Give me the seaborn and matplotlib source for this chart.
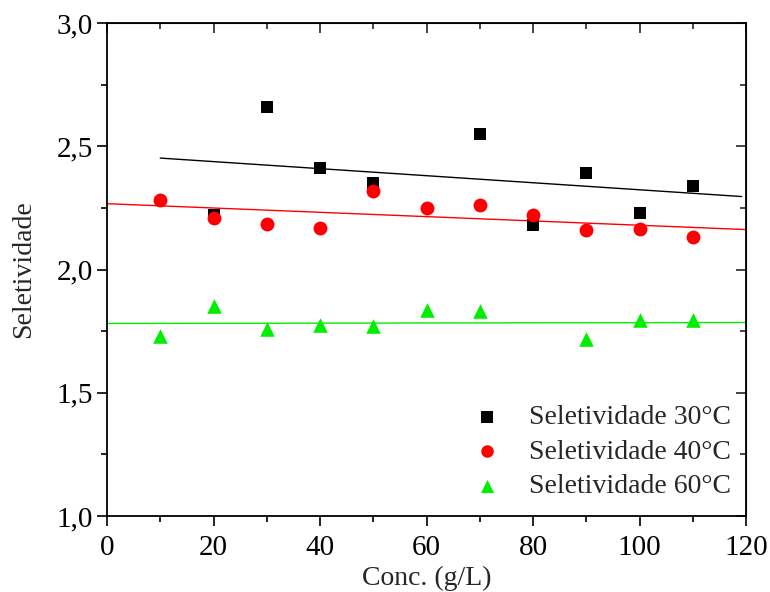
import matplotlib
matplotlib.use("Agg")
import matplotlib.pyplot as plt
import seaborn as sns
import pandas as pd
import numpy as np
from matplotlib.ticker import MultipleLocator, FuncFormatter

# Data
conc_30 = [20, 30, 40, 50, 70, 80, 90, 100, 110]
sel_30 = [2.22, 2.66, 2.41, 2.35, 2.55, 2.18, 2.39, 2.23, 2.34]
conc_40 = [10, 20, 30, 40, 50, 60, 70, 80, 90, 100, 110]
sel_40 = [2.28, 2.21, 2.185, 2.17, 2.32, 2.25, 2.26, 2.22, 2.16, 2.165, 2.13]
conc_60 = [10, 20, 30, 40, 50, 60, 70, 90, 100, 110]
sel_60 = [1.73, 1.85, 1.76, 1.775, 1.77, 1.835, 1.83, 1.72, 1.795, 1.795]

# Linear fit lines (endpoints)
fit_x_30 = [10, 119.2]
fit_y_30 = [2.452, 2.296]
fit_x_40 = [0, 120]
fit_y_40 = [2.267, 2.162]
fit_x_60 = [0, 120]
fit_y_60 = [1.781, 1.785]

labels = ["Seletividade 30°C", "Seletividade 40°C", "Seletividade 60°C"]
colors = ["#000000", "#ff0000", "#00ee00"]
markers = ["s", "o", "^"]

sns.set_style("ticks")
plt.rcParams['font.family'] = ['Liberation Serif', 'DejaVu Serif']

fig = plt.figure(figsize=(7.7, 5.92), dpi=100)
ax = fig.add_axes([107/770, 1-516/592, (746-107)/770, (516-23)/592])

# Fit lines
for fx, fy, c in [(fit_x_30, fit_y_30, colors[0]), (fit_x_40, fit_y_40, colors[1]), (fit_x_60, fit_y_60, colors[2])]:
    sns.lineplot(x=fx, y=fy, color=c, lw=1.0, ax=ax, legend=False)

sizes = [85, 100, 110]
for cx, sy, lab, c, m, s in zip([conc_30, conc_40, conc_60], [sel_30, sel_40, sel_60], labels, colors, markers, sizes):
    df = pd.DataFrame({"x": cx, "y": sy})
    sns.scatterplot(data=df, x="x", y="y", marker=m, color=c, s=s, linewidth=0, ax=ax, label=lab, zorder=3)

ax.set_xlim(0, 120)
ax.set_ylim(1.0, 3.0)
ax.xaxis.set_major_locator(MultipleLocator(20))
ax.xaxis.set_minor_locator(MultipleLocator(10))
ax.yaxis.set_major_locator(MultipleLocator(0.5))
ax.yaxis.set_minor_locator(MultipleLocator(0.25))
ax.yaxis.set_major_formatter(FuncFormatter(lambda v, p: f"{v:.1f}".replace(".", ",")))

for sp in ax.spines.values():
    sp.set_visible(True)
    sp.set_linewidth(1.3)
    sp.set_color("black")

ax.tick_params(axis="both", which="both", direction="out", width=1.2, colors="black", labelsize=21)
ax.tick_params(which="major", length=7)
ax.tick_params(which="minor", length=4)
ax.tick_params(axis="x", which="both", top=False, pad=7)
ax.tick_params(axis="y", which="both", right=False, pad=3)

# secondary ticks on top/right pointing inward
axt = ax.secondary_xaxis("top")
axt.xaxis.set_major_locator(MultipleLocator(20))
axt.xaxis.set_minor_locator(MultipleLocator(10))
axt.tick_params(which="both", direction="in", labeltop=False, width=1.2)
axt.tick_params(which="major", length=7)
axt.tick_params(which="minor", length=4)
axr = ax.secondary_yaxis("right")
axr.yaxis.set_major_locator(MultipleLocator(0.5))
axr.yaxis.set_minor_locator(MultipleLocator(0.25))
axr.tick_params(which="both", direction="in", labelright=False, width=1.2)
axr.tick_params(which="major", length=7)
axr.tick_params(which="minor", length=4)

ax.set_xlabel("Conc. (g/L)", fontsize=20, labelpad=3)
ax.set_ylabel("Seletividade", fontsize=20, labelpad=15)

leg = ax.legend(loc="lower right", bbox_to_anchor=(1.015, -0.016), frameon=False, fontsize=20,
                handlelength=1.0, handletextpad=1.0, labelspacing=0.32, markerscale=0.9)

fig.savefig("out.png", dpi=100)
